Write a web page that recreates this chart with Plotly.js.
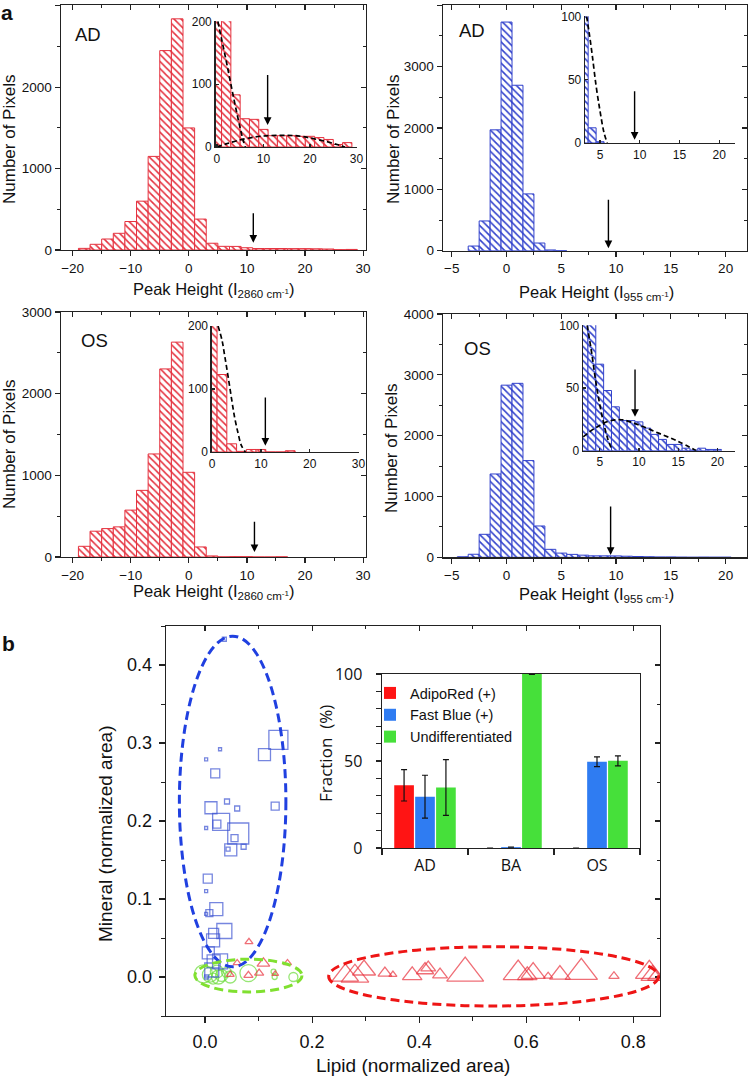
<!DOCTYPE html>
<html><head><meta charset="utf-8">
<script src="https://cdn.plot.ly/plotly-3.0.1.min.js"></script>
<style>html,body{margin:0;padding:0;background:#fff}#chart{width:750px;height:1077px}</style>
</head><body><div id="chart"></div>
<script>
// ================= Panel a : histogram data =================
const binsAD2860   = [-18,-16,-14,-12,-10,-8,-6,-4,-2,0,2,4,6,8,10,12,14,16,18,20,22,24,26,28];
const countsAD2860 = [20,70,135,205,350,600,1150,2450,2840,1500,380,83,45,44,28,18,18,18,17,17,15,12,4,7];
const binsAD955    = [-3,-2,-1,0,1,2,3,4,5];
const countsAD955  = [76,485,1970,3727,2697,926,125,12,1];
const binsOS2860   = [-18,-16,-14,-12,-10,-8,-6,-4,-2,0,2,4,6,8,10,12,14,16];
const countsOS2860 = [131,316,348,369,574,816,1262,2303,2631,1037,123,13,1,4,4,0,0,2];
const binsOS955    = [-4,-3,-2,-1,0,1,2,3,4,5,6,7,8,9,10,11,12,13,14,15,16,17,18,19,20];
const countsOS955  = [8,50,378,1370,2830,2860,1590,515,131,69,48,35,24,24,23,18,13,9,5,5,2,0.5,2,1,1];

// fitted curves
const fitAD2860aX = [0.2,1,2,3,4,5,5.6,6.1];
const fitAD2860aY = [200,172,137,100,64,30,12,0];
const fitAD2860bX = [0,2,4.6,8.2,11,13.9,16.5,18.9,21.5,23.9,26,27.5];
const fitAD2860bY = [0,5,10.6,16,18,18.6,18.2,16,12,8,3.5,0];
const fitAD955X   = [3.3,3.6,4.0,4.5,5.0,5.5,5.9];
const fitAD955Y   = [100,88,70,45,25,8,0];
const fitOS2860X  = [1.2,2,2.6,3.3,4,4.6,5.3,6,6.8];
const fitOS2860Y  = [200,178,151,118,83,55,30,10,0];
const fitOS955aX  = [3.4,4.0,4.5,5.0,5.5,6.0,6.6];
const fitOS955aY  = [100,77,55,37,22,10,0];
const fitOS955bX  = [2.9,4.4,6.1,7.8,9.9,12.5,15,17.3];
const fitOS955bY  = [11,18,23.4,24.7,20.7,14,7.4,0];

// threshold arrows: [AD2860, AD955, OS2860, OS955]
const arrowMainX    = [11.1, 9.3, 11.3, 9.5];
const arrowMainTail = [470, 855, 450, 860];
const arrowMainTip  = [90, 40, 60, 38];
const arrowInsetX    = [10.9, 9.35, 10.9, 9.5];
const arrowInsetTail = [117, 42, 89, 66];
const arrowInsetTip  = [35, 2.6, 10, 27];

// ================= Panel b : scatter data =================
const blueLipid   = [0.137,0.111,0.131,0.028,0.002,0.019,0.011,0.041,0.060,0.030,0.022,0.002,0.062,0.055,0.072,0.048,0.043,0.005,0.002,0.021,0.008,0.002,0.036,0.016,0.015,0.006,0.028,0.016,0.036,0.003,0.0125];
const blueMineral = [0.304,0.285,0.219,0.292,0.279,0.261,0.217,0.225,0.216,0.199,0.196,0.191,0.184,0.178,0.167,0.163,0.164,0.126,0.110,0.087,0.082,0.081,0.059,0.056,0.047,0.031,0.020,0.020,0.433,0.0,0.009];
const blueSize    = [19,12,8,3,3,9,12,5,5,17,8,3,21,7,5,12,4,9,3,13,7,3,15,10,13,12,15,13,4,4,14];

const redLipid   = [0.082,0.109,0.154,0.060,0.101,0.081,0.131,0.047,0.262,0.280,0.297,0.336,0.351,0.387,0.411,0.417,0.439,0.486,0.585,0.602,0.613,0.641,0.663,0.703,0.764,0.830,0.836,0.841];
const redMineral = [0.045,0.0175,0.018,0.018,0.005,0.002,0.004,0.003,0.002,0.001,0.009,0.005,0.003,0.002,0.009,0.012,0.003,0.005,0.005,0.002,0.005,0.001,0.003,0.006,0.001,0.006,0.002,0.0];
const redSize    = [7,11,7,7,8,8,6,7,23,24,20,12,7,17,15,13,13,32,26,17,21,8,18,28,9,24,20,13];

const greenLipid   = [-0.003,0.009,0.022,0.031,0.047,0.015,0.081,0.128,0.130,0.165,0.040,0.025];
const greenMineral = [0.004,0.003,0.007,0.002,0.0,-0.002,0.005,0.007,0.0,0.0,0.006,0.0];
const greenSize    = [18,15,13,12,12,11,17,5,5,9,10,14];

// cluster ellipses: blue (OS), green (BA), red (AD)
const ellCx = [0.0515, 0.081, 0.539];
const ellCy = [0.225, 0.0019, 0.0008];
const ellRx = [0.0995, 0.100, 0.308];
const ellRy = [0.212, 0.021, 0.038];

// inset bar chart
const groups      = ['AD','BA','OS'];
const adipoRed    = [36, 0, 0];
const adipoRedErr = [9, 0, 0];
const fastBlue    = [29.5, 0.5, 49.6];
const fastBlueErr = [12.3, 0, 2.8];
const undiff      = [34.8, 100, 50.1];
const undiffErr   = [16, 0.3, 2.9];

// ================= styling =================
const FONT = 'Liberation Sans, Arial, sans-serif';
const FONT2 = 'Open Sans, Liberation Sans, sans-serif';
const AXC = '#222';
const HRED = '#e5323f', HBLUE = '#3242cc';
const W = 750, H = 1077;
const xa = i => i===1 ? 'xaxis' : 'xaxis'+i;
const ya = i => i===1 ? 'yaxis' : 'yaxis'+i;
const xr = i => i===1 ? 'x' : 'x'+i;
const yr = i => i===1 ? 'y' : 'y'+i;
const domX = (a,b) => [a/W, b/W];
const domY = (t,b) => [1-b/H, 1-t/H];

const L = {
  width: W, height: H, margin:{l:0,r:0,t:0,b:0},
  paper_bgcolor:'#fff', plot_bgcolor:'rgba(0,0,0,0)',
  font:{family:FONT, color:'#111'},
  barmode:'group', bargap:0.27, bargroupgap:0.06,
  showlegend:true,
  legend:{x:370/W, y:1-677/H, xanchor:'left', yanchor:'top', bgcolor:'rgba(0,0,0,0)',
          font:{family:FONT, size:14.5, color:'#111'}, itemwidth:30, tracegroupgap:0},
  annotations:[], shapes:[]
};
const common = {showline:true, linecolor:AXC, linewidth:1.4, showgrid:false, zeroline:false,
                tickcolor:AXC, tickwidth:1.2, fixedrange:true};

const traces = [];
function addMain(i, m, xd, yd, xrange, yrange, xdt, xmn, ydt, ymn, fsz, fmt, stand){
  L[xa(i)] = Object.assign({}, common, {domain:domX(...xd), range:xrange, anchor:yr(i),
    ticks:'outside', ticklen:5, tick0:0, dtick:xdt,
    minor:{tick0:0, dtick:xmn, ticks:'outside', ticklen:3, tickcolor:AXC, tickwidth:1},
    tickfont:{family:FONT, size:fsz, color:'#111'}, tickformat:fmt||'', ticklabelstandoff:stand||0});
  L[ya(i)] = Object.assign({}, common, {domain:domY(...yd), range:yrange, anchor:xr(i),
    ticks:'outside', ticklen:5, tick0:0, dtick:ydt,
    minor:{tick0:0, dtick:ymn, ticks:'outside', ticklen:3, tickcolor:AXC, tickwidth:1},
    tickfont:{family:FONT, size:fsz, color:'#111'}, tickformat:fmt||'', ticklabelstandoff:stand||0});
  // mirrored frame with inward ticks (top and right)
  L[xa(m)] = Object.assign({}, common, {overlaying:xr(i), anchor:yr(i), side:'top', range:xrange,
    ticks:'inside', ticklen:5, tick0:0, dtick:xdt, showticklabels:false,
    minor:{tick0:0, dtick:xmn, ticks:'inside', ticklen:3, tickcolor:AXC, tickwidth:1}});
  L[ya(m)] = Object.assign({}, common, {overlaying:yr(i), anchor:xr(i), side:'right', range:yrange,
    ticks:'inside', ticklen:5, tick0:0, dtick:ydt, showticklabels:false,
    minor:{tick0:0, dtick:ymn, ticks:'inside', ticklen:3, tickcolor:AXC, tickwidth:1}});
  // empty traces so that the overlay axes are drawn
  traces.push({type:'scatter', mode:'markers', x:[], y:[], xaxis:xr(m), yaxis:yr(i), showlegend:false, hoverinfo:'skip'});
  traces.push({type:'scatter', mode:'markers', x:[], y:[], xaxis:xr(i), yaxis:yr(m), showlegend:false, hoverinfo:'skip'});
}
function addInset(i, xd, yd, xrange, yrange, xdt, ydt){
  L[xa(i)] = Object.assign({}, common, {domain:domX(...xd), range:xrange, anchor:yr(i),
    ticks:'inside', ticklen:3, tick0:0, dtick:xdt, linewidth:1.3,
    tickfont:{family:FONT, size:12, color:'#111'}});
  L[ya(i)] = Object.assign({}, common, {domain:domY(...yd), range:yrange, anchor:xr(i),
    ticks:'inside', ticklen:3, tick0:0, dtick:ydt, linewidth:1.3,
    tickfont:{family:FONT, size:12, color:'#111'}});
}

// panel a axes
addMain(1, 11, [61,366], [5,250],   [-22,30.5], [0,3010], 10, 5, 1000, 500, 13.5);
addInset(2, [215.5,357], [21.3,147], [-0.3,30.1], [0,200], 10, 100);
addMain(3, 12, [443,747], [5,250.7], [-5.8,21.95], [0,4005], 5, 2.5, 1000, 500, 13.5);
addInset(4, [585,735], [16.3,143], [3.1,22], [0,100], 5, 50);
addMain(5, 13, [61,366], [312,557], [-22,30.5], [0,3000], 10, 5, 1000, 500, 13.5);
addInset(6, [211.7,359], [326,452], [-0.1,30.1], [0,200], 10, 100);
addMain(7, 14, [443,747], [314,557.3], [-5.8,21.95], [0,4000], 5, 2.5, 1000, 500, 13.5);
addInset(8, [583,734.7], [325.3,450.7], [2.87,22.2], [0,100], 5, 50);
// panel b axes
addMain(9, 15, [166,660], [626,1016], [-0.073,0.85], [-0.05,0.45], 0.2, 0.1, 0.1, 0.05, 18, '.1f', 3);
L[xa(9)].ticklen = 6; L[ya(9)].ticklen = 6; L[xa(9)].minor.ticklen = 4; L[ya(9)].minor.ticklen = 4;
// inset bar chart axes
L[xa(10)] = Object.assign({}, common, {domain:domX(382,640), range:[-0.5,2.5], anchor:yr(10), type:'category',
  ticks:'outside', ticklen:6, tickson:'boundaries', mirror:true, linewidth:1.4,
  tickfont:{family:FONT2, size:16, color:'#111'}, ticklabelstandoff:2});
L[ya(10)] = Object.assign({}, common, {domain:domY(674,848), range:[0,100], anchor:xr(10),
  ticks:'outside', ticklen:5, tick0:0, dtick:50, mirror:true, linewidth:1.4,
  minor:{tick0:0, dtick:10, ticks:'outside', ticklen:5, tickcolor:AXC, tickwidth:1},
  tickfont:{family:FONT2, size:16, color:'#111'}, ticklabelstandoff:10});

// ================= traces =================
function hist(xs, ys, w, i, col){
  traces.push({type:'bar', x:xs, y:ys, width:w, xaxis:xr(i), yaxis:yr(i), showlegend:false, hoverinfo:'skip',
    marker:{color:'#fff', line:{color:col, width:1},
            pattern:{shape:'\\', fgcolor:col, bgcolor:'#fff', size:5, solidity:0.32}}});
}
function fit(xs, ys, i){
  traces.push({type:'scatter', mode:'lines', x:xs, y:ys, xaxis:xr(i), yaxis:yr(i), showlegend:false, hoverinfo:'skip',
    line:{color:'#000', width:1.7, dash:'5px,3px', shape:'spline'}});
}
hist(binsAD2860, countsAD2860, 2, 1, HRED);
hist(binsAD2860, countsAD2860, 2, 2, HRED);
fit(fitAD2860aX, fitAD2860aY, 2); fit(fitAD2860bX, fitAD2860bY, 2);
hist(binsAD955, countsAD955, 1, 3, HBLUE);
hist(binsAD955, countsAD955, 1, 4, HBLUE);
fit(fitAD955X, fitAD955Y, 4);
hist(binsOS2860, countsOS2860, 2, 5, HRED);
hist(binsOS2860, countsOS2860, 2, 6, HRED);
fit(fitOS2860X, fitOS2860Y, 6);
hist(binsOS955, countsOS955, 1, 7, HBLUE);
hist(binsOS955, countsOS955, 1, 8, HBLUE);
fit(fitOS955aX, fitOS955aY, 8); fit(fitOS955bX, fitOS955bY, 8);

// scatter panel b
function pts(xs, ys, ss, sym, col){
  traces.push({type:'scatter', mode:'markers', x:xs, y:ys, xaxis:'x9', yaxis:'y9', showlegend:false, hoverinfo:'skip',
    marker:{symbol:sym, size:ss, color:col, line:{color:col, width:1.3}}});
}
pts(greenLipid, greenMineral, greenSize, 'circle-open', '#6bdc3a');
pts(redLipid, redMineral, redSize, 'triangle-up-open', '#e8303c');
pts(blueLipid, blueMineral, blueSize, 'square-open', '#3c52d2');

// inset bars
const barDefs = [[adipoRed, adipoRedErr, 'AdipoRed (+)', '#ff1414'],
                 [fastBlue, fastBlueErr, 'Fast Blue (+)', '#2f7cf2'],
                 [undiff, undiffErr, 'Undifferentiated', '#46e03a']];
barDefs.forEach(([v, e, n, c]) => traces.push({type:'bar', name:n, x:groups, y:v, xaxis:'x10', yaxis:'y10',
  marker:{color:c, line:{width:0}}, hoverinfo:'skip',
  error_y:{type:'data', array:e, visible:true, color:'#111', thickness:1.2, width:3}}));

// ================= shapes (ellipses) =================
const ellColors = ['#2040e0', '#80e030', '#ee1515'];
ellCx.forEach((cx, k) => L.shapes.push({type:'circle', xref:'x9', yref:'y9', layer:'above',
  x0:cx-ellRx[k], x1:cx+ellRx[k], y0:ellCy[k]-ellRy[k], y1:ellCy[k]+ellRy[k],
  line:{color:ellColors[k], width:3, dash:'9px,5px'}}));

// ================= annotations =================
const A = L.annotations;
const mainIdx = [1,3,5,7], insetIdx = [2,4,6,8];
mainIdx.forEach((i,k) => A.push({xref:xr(i), yref:yr(i), axref:xr(i), ayref:yr(i),
  x:arrowMainX[k], y:arrowMainTip[k], ax:arrowMainX[k], ay:arrowMainTail[k], text:'',
  showarrow:true, arrowhead:2, arrowsize:1.1, arrowwidth:1.4, arrowcolor:'#000', standoff:0}));
insetIdx.forEach((i,k) => A.push({xref:xr(i), yref:yr(i), axref:xr(i), ayref:yr(i),
  x:arrowInsetX[k], y:arrowInsetTip[k], ax:arrowInsetX[k], ay:arrowInsetTail[k], text:'',
  showarrow:true, arrowhead:2, arrowsize:1.1, arrowwidth:1.4, arrowcolor:'#000', standoff:0}));

function txt(t, x, y, size, opts){
  A.push(Object.assign({xref:'paper', yref:'paper', x:x/W, y:1-y/H, text:t, showarrow:false,
    xanchor:'center', yanchor:'middle', font:{family:FONT, size:size, color:'#111'}}, opts||{}));
}
txt('<b>a</b>', 7, 13, 21);
txt('<b>b</b>', 8, 643, 21);
txt('AD', 88, 34, 18.5); txt('AD', 472, 30, 18.5);
txt('OS', 94, 341, 18.5); txt('OS', 477, 348, 18.5);
txt('Number of Pixels', 9, 140, 17, {textangle:-90});
txt('Number of Pixels', 393, 140, 17, {textangle:-90});
txt('Number of Pixels', 9, 445, 17, {textangle:-90});
txt('Number of Pixels', 392, 448, 17, {textangle:-90});
txt('Peak Height (I<sub>2860 cm<sup>-1</sup></sub>)', 214, 290, 16.5);
txt('Peak Height (I<sub>955 cm<sup>-1</sup></sub>)', 596, 293, 16.5);
txt('Peak Height (I<sub>2860 cm<sup>-1</sup></sub>)', 214, 592, 16.5);
txt('Peak Height (I<sub>955 cm<sup>-1</sup></sub>)', 596, 595, 16.5);
txt('Mineral (normalized area)', 105, 834, 19, {textangle:-90});
txt('Lipid (normalized area)', 413, 1065, 19);
A.push({xref:'paper', yref:'paper', x:325/W, y:1-754/H, text:'Fraction  (%)', showarrow:false, textangle:-90,
  xanchor:'center', yanchor:'middle', font:{family:FONT2, size:17, color:'#111'}});

Plotly.newPlot('chart', traces, L, {staticPlot:true, displayModeBar:false});
</script>
</body></html>
